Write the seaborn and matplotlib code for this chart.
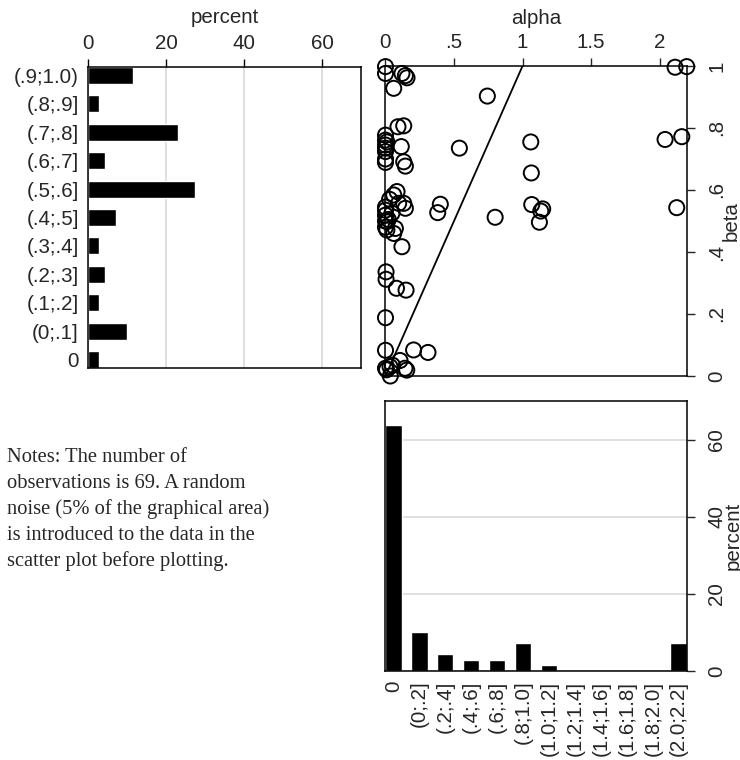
import matplotlib
matplotlib.use("Agg")
import matplotlib.pyplot as plt
import seaborn as sns
import pandas as pd

# ---------------- data ----------------
beta_bins = ["(.9;1.0)", "(.8;.9]", "(.7;.8]", "(.6;.7]", "(.5;.6]", "(.4;.5]",
             "(.3;.4]", "(.2;.3]", "(.1;.2]", "(0;.1]", "0"]
beta_pct = [11.6, 2.9, 23.2, 4.3, 27.5, 7.2, 2.9, 4.3, 2.9, 10.1, 2.9]

alpha_bins = ["0", "(0;.2]", "(.2;.4]", "(.4;.6]", "(.6;.8]", "(.8;1.0]", "(1.0;1.2]",
              "(1.2;1.4]", "(1.4;1.6]", "(1.6;1.8]", "(1.8;2.0]", "(2.0;2.2]"]
alpha_pct = [63.8, 10.1, 4.3, 2.9, 2.9, 7.2, 1.5, 0, 0, 0, 0, 7.2]

alpha_pts = [0.00, 0.00, 0.12, 0.145, 0.157, 0.06,
             0.091, 0.133, 0.00, 0.00, 0.00, 0.115, 0.00, 0.00, 0.00, 0.133, 0.145, 0.00, 0.01,
             0.084, 0.06, 0.133, 0.145, 0.00, 0.00, 0.01, 0.00, 0.01, 0.072, 0.096, 0.047, 0.06,
             0.12, 0.00, 0.02, 0.03, 0.00,
             0.004, 0.004, 0.08, 0.15, 0.00, 0.00, 0.205, 0.31, 0.106, 0.033, 0.142, 0.155,
             0.035, 0.008, 0.00, 0.05,
             0.40, 0.381, 0.539, 0.743, 0.80, 1.06, 1.064, 1.067, 1.147, 1.133, 1.123,
             2.113, 2.198, 2.04, 2.162, 2.125]
beta_pts = [0.998, 0.976, 0.976, 0.969, 0.962, 0.928,
            0.804, 0.807, 0.777, 0.761, 0.745, 0.740, 0.724, 0.700, 0.689, 0.691, 0.677, 0.735, 0.755,
            0.595, 0.584, 0.557, 0.541, 0.535, 0.519, 0.498, 0.480, 0.471, 0.476, 0.557, 0.525, 0.460,
            0.417, 0.545, 0.505, 0.570, 0.500,
            0.336, 0.312, 0.283, 0.277, 0.188, 0.083, 0.084, 0.076, 0.050, 0.030, 0.025, 0.019,
            0.000, 0.020, 0.025, 0.035,
            0.554, 0.527, 0.735, 0.903, 0.512, 0.755, 0.655, 0.553, 0.539, 0.532, 0.496,
            0.996, 0.998, 0.763, 0.772, 0.543]

line_alpha = [0, 1]
line_beta = [0, 1]

pct_ticks = [0, 20, 40, 60]
alpha_ticks = [0, 0.5, 1, 1.5, 2]
alpha_ticklabels = ["0", ".5", "1", "1.5", "2"]
beta_ticks = [0, 0.2, 0.4, 0.6, 0.8, 1]
beta_ticklabels = ["0", ".2", ".4", ".6", ".8", "1"]

notes_lines = ["Notes: The number of",
               "observations is 69. A random",
               "noise (5% of the graphical area)",
               "is introduced to the data in the",
               "scatter plot before plotting."]

# ---------------- style ----------------
sns.set_style("white")
plt.rcParams['font.family'] = ['Liberation Sans', 'DejaVu Sans']
FS = 14.8
GRID = '#dcdcdc'
W, H = 740, 760

fig = plt.figure(figsize=(7.4, 7.6), dpi=100)


def frac(l, t, r, b):
    return [l / W, 1 - b / H, (r - l) / W, (b - t) / H]


def spines(ax):
    for s in ax.spines.values():
        s.set_visible(True)
        s.set_color('black')
        s.set_linewidth(1.1)


# ---- left: beta histogram ----
ax1 = fig.add_axes(frac(88, 67, 361, 368))
df_b = pd.DataFrame({"bin": beta_bins, "pct": beta_pct})
sns.barplot(data=df_b, x="pct", y="bin", order=beta_bins, color="black",
            saturation=1, width=0.6, orient="h", ax=ax1, zorder=2)
ax1.set_xlim(0, 70)
ax1.set_ylim(10.3, -0.3)
ax1.set_xticks(pct_ticks)
ax1.xaxis.tick_top()
ax1.xaxis.set_label_position('top')
ax1.set_xlabel("percent", fontsize=FS)
ax1.xaxis.set_label_coords(0.5, (368 - 18) / 301)
ax1.xaxis.label.set_va('center')
ax1.set_ylabel("")
ax1.grid(axis='x', color=GRID, lw=1.3)
ax1.grid(axis='y', visible=False)
ax1.set_axisbelow(True)
ax1.tick_params(axis='x', top=True, bottom=False, length=6, width=1, pad=4,
                labelsize=FS, direction='out', color='black')
ax1.tick_params(axis='y', left=False, length=0, pad=6.5, labelsize=FS)
spines(ax1)

# ---- scatter ----
ax2 = fig.add_axes(frac(385.5, 66, 687, 376))
sns.scatterplot(x=alpha_pts, y=beta_pts, ax=ax2, s=118, marker='o',
                facecolor='none', edgecolor='black', linewidth=1.4,
                clip_on=False, zorder=3)
for c in ax2.collections:
    c.set_facecolor('none')
    c.set_edgecolor('black')
ax2.plot(line_alpha, line_beta, color='black', lw=1.3, zorder=2)
ax2.set_xlim(0, 2.2)
ax2.set_ylim(0, 1)
ax2.set_xticks(alpha_ticks)
ax2.set_xticklabels(alpha_ticklabels)
ax2.set_yticks(beta_ticks)
ax2.set_yticklabels(beta_ticklabels)
ax2.xaxis.tick_top()
ax2.xaxis.set_label_position('top')
ax2.set_xlabel("alpha", fontsize=FS)
ax2.xaxis.set_label_coords(0.5, (376 - 18) / 310)
ax2.xaxis.label.set_va('center')
ax2.yaxis.tick_right()
ax2.yaxis.set_label_position('right')
ax2.set_ylabel("beta", fontsize=FS, rotation=90)
ax2.yaxis.set_label_coords((731 - 385.5) / 301.5, 0.5)
ax2.yaxis.label.set_va('center')
ax2.yaxis.label.set_ha('center')
ax2.tick_params(axis='x', top=True, bottom=False, length=6, width=1, pad=4,
                labelsize=FS, direction='out')
ax2.tick_params(axis='y', right=True, left=False, length=5.5, width=1, pad=9,
                labelsize=FS, direction='out', labelrotation=90)
for lab in ax2.get_yticklabels():
    lab.set_va('center')
ax2.grid(False)
spines(ax2)

# ---- bottom: alpha histogram ----
ax3 = fig.add_axes(frac(385, 401, 687, 671))
df_a = pd.DataFrame({"bin": alpha_bins, "pct": alpha_pct})
sns.barplot(data=df_a, x="bin", y="pct", order=alpha_bins, color="black",
            saturation=1, width=0.64, ax=ax3, zorder=2)
ax3.set_xlim(-0.32, 11.32)
ax3.set_ylim(0, 70)
ax3.set_yticks(pct_ticks)
ax3.yaxis.tick_right()
ax3.yaxis.set_label_position('right')
ax3.set_ylabel("percent", fontsize=FS, rotation=90)
ax3.yaxis.set_label_coords((733 - 385) / 302, 0.5)
ax3.yaxis.label.set_va('center')
ax3.yaxis.label.set_ha('center')
ax3.set_xlabel("")
ax3.grid(axis='y', color=GRID, lw=1.3)
ax3.grid(axis='x', visible=False)
ax3.set_axisbelow(True)
ax3.tick_params(axis='x', bottom=False, length=0, pad=7, labelsize=FS, labelrotation=90)
ax3.tick_params(axis='y', right=True, left=False, length=5.5, width=1, pad=9,
                labelsize=FS, direction='out', labelrotation=90)
for lab in ax3.get_yticklabels():
    lab.set_va('center')
spines(ax3)

# ---- notes ----
for i, line in enumerate(notes_lines):
    fig.text(7 / W, 1 - (462 + 26 * i) / H, line, family=['Liberation Serif', 'DejaVu Serif'],
             fontsize=FS, ha='left', va='baseline')

fig.savefig("out.png", dpi=100)
